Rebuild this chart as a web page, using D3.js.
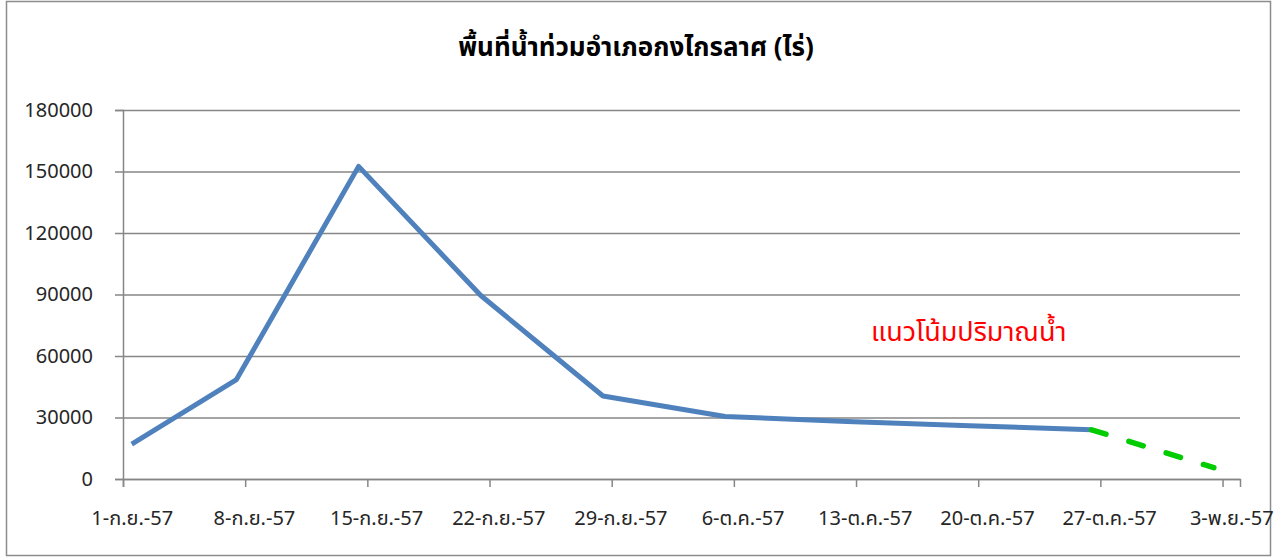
<!DOCTYPE html>
<html>
<head>
<meta charset="utf-8">
<script src="https://cdn.jsdelivr.net/npm/d3@7"></script>
<style>
  body { margin: 0; background: #fff; }
  text { font-family: "Noto Sans Thai", Tahoma, "Noto Sans", sans-serif; }
</style>
</head>
<body>
<svg id="chart" width="1279" height="558"></svg>
<script>
// วันที่สำรวจ / พื้นที่น้ำท่วม (ไร่)
const obsDates = ['2014-09-01', '2014-09-07', '2014-09-14', '2014-09-21', '2014-09-28',
  '2014-10-05', '2014-10-12', '2014-10-19', '2014-10-26'];
const obsValues = [17000, 48500, 152500, 89500, 40500, 30500, 28000, 26000, 24000];

// แนวโน้ม (เส้นประสีเขียว)
const trendDates = ['2014-10-26', '2014-11-02'];
const trendValues = [24000, 5500];

const tickDates = ['2014-09-01', '2014-09-08', '2014-09-15', '2014-09-22', '2014-09-29',
  '2014-10-06', '2014-10-13', '2014-10-20', '2014-10-27', '2014-11-03'];
const tickLabels = ['1-ก.ย.-57', '8-ก.ย.-57', '15-ก.ย.-57', '22-ก.ย.-57', '29-ก.ย.-57',
  '6-ต.ค.-57', '13-ต.ค.-57', '20-ต.ค.-57', '27-ต.ค.-57', '3-พ.ย.-57'];
const yTicks = [0, 30000, 60000, 90000, 120000, 150000, 180000];

const svg = d3.select('#chart');
const width = +svg.attr('width');
const height = +svg.attr('height');
const margin = { top: 110, right: 39, bottom: 79, left: 123 };

const parse = d3.utcParse('%Y-%m-%d');
const half = 12 * 3600 * 1000; // Excel date axis: point in the middle of the day

const x = d3.scaleUtc()
  .domain([parse('2014-09-01'), parse('2014-11-04')])
  .range([margin.left, width - margin.right]);
const y = d3.scaleLinear()
  .domain([0, 180000])
  .range([height - margin.bottom, margin.top]);

// กรอบนอก
svg.append('rect')
  .attr('x', 6.5).attr('y', 1.5)
  .attr('width', 1264).attr('height', 554)
  .attr('fill', 'none').attr('stroke', '#8c8c8c').attr('stroke-width', 1.5);

// title
svg.append('text')
  .attr('x', 636).attr('y', 56)
  .attr('text-anchor', 'middle')
  .attr('font-size', 26).attr('font-weight', 'bold')
  .text('พื้นที่น้ำท่วมอำเภอกงไกรลาศ (ไร่)');

// grid + y axis
const yAxis = d3.axisLeft(y).tickValues(yTicks).tickSize(8).tickPadding(22).tickFormat(d3.format('d'));
const gy = svg.append('g')
  .attr('transform', `translate(${margin.left},0)`)
  .call(yAxis);
gy.select('.domain').attr('stroke', '#868686').attr('stroke-width', 1.5);
gy.selectAll('.tick line').attr('stroke', '#868686').attr('stroke-width', 1.5);
gy.selectAll('.tick text').attr('font-size', 20).attr('fill', '#262626');
gy.selectAll('.tick').append('line')
  .attr('x1', 0).attr('x2', width - margin.right - margin.left)
  .attr('stroke', '#868686').attr('stroke-width', 1.5);

// x axis
const xAxis = d3.axisBottom(x)
  .tickValues(tickDates.map(parse))
  .tickSize(8)
  .tickPadding(24)
  .tickFormat((d, i) => tickLabels[i]);
const gx = svg.append('g')
  .attr('transform', `translate(0,${height - margin.bottom})`)
  .call(xAxis);
gx.select('.domain').attr('stroke', '#868686').attr('stroke-width', 1.5);
gx.selectAll('.tick line').attr('stroke', '#868686').attr('stroke-width', 1.5);
gx.selectAll('.tick text')
  .attr('font-size', 20).attr('fill', '#262626')
  .attr('dx', (x(parse('2014-09-02')) - x(parse('2014-09-01'))) / 2);

const line = d3.line()
  .x(d => x(new Date(d[0].getTime() + half)))
  .y(d => y(d[1]));

svg.append('path')
  .datum(obsDates.map((d, i) => [parse(d), obsValues[i]]))
  .attr('fill', 'none')
  .attr('stroke', '#4F81BD')
  .attr('stroke-width', 5)
  .attr('stroke-linejoin', 'round')
  .attr('d', line);

svg.append('path')
  .datum(trendDates.map((d, i) => [parse(d), trendValues[i]]))
  .attr('fill', 'none')
  .attr('stroke', '#00CC00')
  .attr('stroke-width', 5.5)
  .attr('stroke-linecap', 'round')
  .attr('stroke-dasharray', '15 24')
  .attr('d', line);

svg.append('text')
  .attr('x', 871).attr('y', 341)
  .attr('font-size', 27)
  .attr('fill', '#ff0000')
  .text('แนวโน้มปริมาณน้ำ');
</script>
</body>
</html>
